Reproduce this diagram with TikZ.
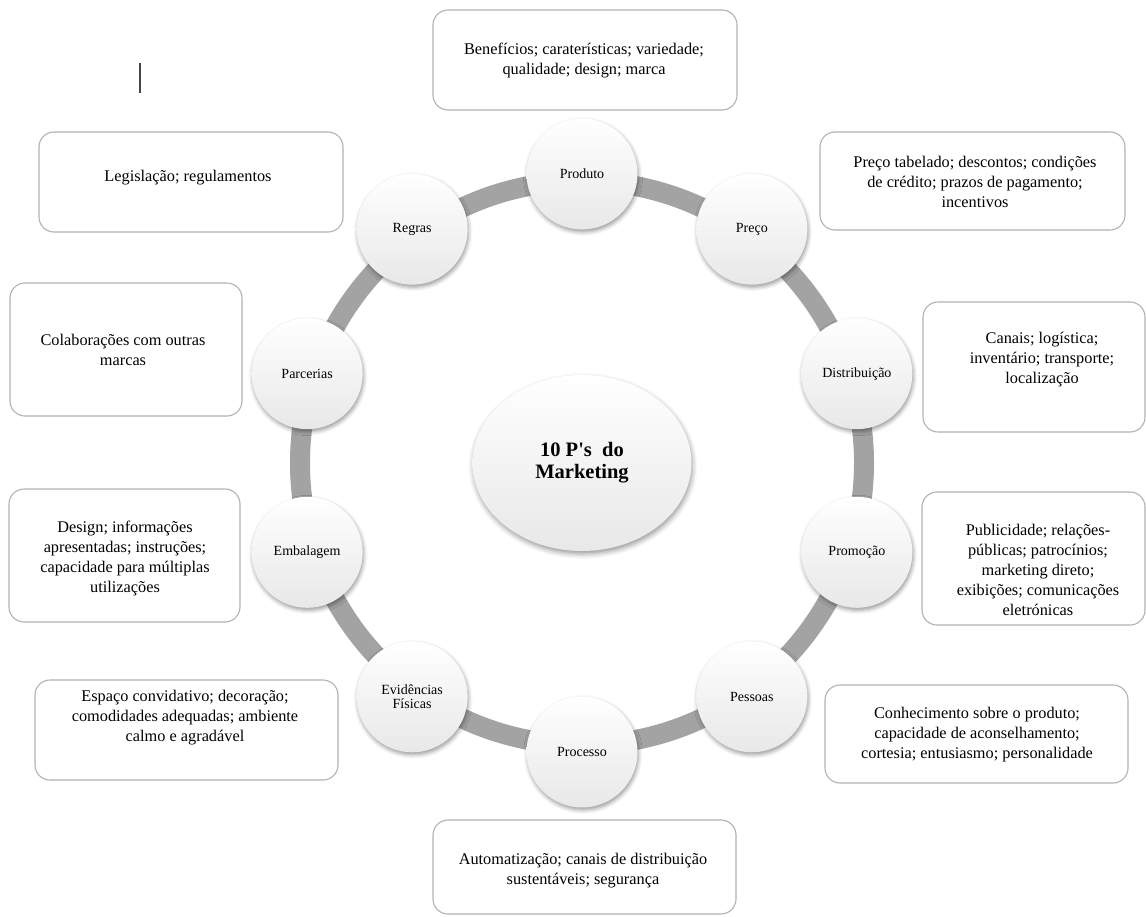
\documentclass[tikz,border=0pt]{standalone}
\usepackage{fontspec}
\setmainfont{Liberation Serif}[Ligatures=TeXOff]
\usetikzlibrary{shapes.geometric,shadows.blur}

\definecolor{ringgray}{RGB}{163,163,163}
\definecolor{framegray}{RGB}{178,178,178}
\definecolor{bubblegray}{RGB}{232,232,232}
\definecolor{caretgray}{RGB}{70,70,70}

\tikzset{
  frame/.style={draw=framegray, line width=1.1pt, rounded corners=15pt,
    fill=white, inner sep=0pt},
  note/.style={align=center, inner sep=0pt,
    font=\fontsize{16.3}{20}\selectfont},
  pbubble/.style={circle, minimum size=111pt, inner sep=0pt, align=center,
    top color=white, middle color=white, bottom color=bubblegray,
    blur shadow={shadow xshift=1pt, shadow yshift=-2.5pt,
      shadow blur radius=4pt, shadow opacity=40},
    font=\fontsize{14}{14}\selectfont},
  hubstyle/.style={ellipse, minimum width=219pt, minimum height=176pt,
    inner sep=0pt, align=center,
    top color=white, middle color=white, bottom color=bubblegray,
    blur shadow={shadow xshift=1pt, shadow yshift=-3pt,
      shadow blur radius=5pt, shadow opacity=40},
    font=\fontsize{20.5}{22}\selectfont\bfseries},
  ring/.style={draw=ringgray, line width=20pt},
}

\begin{document}
\begin{tikzpicture}[x=1pt,y=-1pt]
\useasboundingbox (0,0) rectangle (1146,916);

% text cursor mark at the top left
\coordinate (caretTop) at (140,63);
\coordinate (caretBot) at (140,93);
\draw[caretgray, line width=2pt] (caretTop) -- (caretBot);

% ring joining the ten P's
\coordinate (hubc) at (582,463);
\draw[ring] (hubc) circle[radius=282pt];

% centre
\node[hubstyle] (hub) at (hubc) {10 P's~ do\\Marketing};

% the ten P's around the ring
\node[pbubble] (produto)  at ([shift={(90:289pt)}]hubc)   {Produto};
\node[pbubble] (preco)    at ([shift={(54:289pt)}]hubc)   {Preço};
\node[pbubble] (distrib)  at ([shift={(18:289pt)}]hubc)   {Distribuição};
\node[pbubble] (promocao) at ([shift={(-18:289pt)}]hubc)  {Promoção};
\node[pbubble] (pessoas)  at ([shift={(-54:289pt)}]hubc)  {Pessoas};
\node[pbubble] (processo) at ([shift={(-90:289pt)}]hubc)  {Processo};
\node[pbubble] (evid)     at ([shift={(-126:289pt)}]hubc) {Evidências\\Físicas};
\node[pbubble] (embal)    at ([shift={(-162:289pt)}]hubc) {Embalagem};
\node[pbubble] (parc)     at ([shift={(162:289pt)}]hubc)  {Parcerias};
\node[pbubble] (regras)   at ([shift={(126:289pt)}]hubc)  {Regras};

% description boxes
\node[frame, minimum width=304pt, minimum height=100pt] (bProduto) at (585,60) {};
\node[note] (tProduto) at (584,60.5)
  {Benefícios; caraterísticas; variedade;\\qualidade; design; marca};

\node[frame, minimum width=305pt, minimum height=98pt] (bPreco) at (972.5,181) {};
\node[note] (tPreco) at (975,182)
  {Preço tabelado; descontos; condições\\de crédito; prazos de pagamento;\\incentivos};

\node[frame, minimum width=222pt, minimum height=130pt] (bDistrib) at (1034,367) {};
\node[note] (tDistrib) at (1042,360)
  {Canais; logística;\\inventário; transporte;\\localização};

\node[frame, minimum width=223pt, minimum height=133pt] (bPromocao) at (1033.5,558.5) {};
\node[note] (tPromocao) at (1038,570)
  {Publicidade; relações-\\públicas; patrocínios;\\marketing direto;\\exibições; comunicações\\eletrónicas};

\node[frame, minimum width=303pt, minimum height=98pt] (bPessoas) at (976.5,734) {};
\node[note] (tPessoas) at (977,735)
  {Conhecimento sobre o produto;\\capacidade de aconselhamento;\\cortesia; entusiasmo; personalidade};

\node[frame, minimum width=303pt, minimum height=94pt] (bProcesso) at (584.5,867) {};
\node[note] (tProcesso) at (583,871)
  {Automatização; canais de distribuição\\sustentáveis; segurança};

\node[frame, minimum width=304pt, minimum height=100pt] (bRegras) at (191,182) {};
\node[note] (tRegras) at (188,178) {Legislação; regulamentos};

\node[frame, minimum width=232pt, minimum height=133pt] (bParc) at (126,349.5) {};
\node[note] (tParc) at (123,350) {Colaborações com outras\\marcas};

\node[frame, minimum width=231pt, minimum height=133pt] (bEmbal) at (124.5,555.5) {};
\node[note] (tEmbal) at (125,558)
  {Design; informações\\apresentadas; instruções;\\capacidade para múltiplas\\utilizações};

\node[frame, minimum width=303pt, minimum height=100pt] (bEvid) at (186.5,730) {};
\node[note] (tEvid) at (185,718)
  {Espaço convidativo; decoração;\\comodidades adequadas; ambiente\\calmo e agradável};
\end{tikzpicture}
\end{document}
